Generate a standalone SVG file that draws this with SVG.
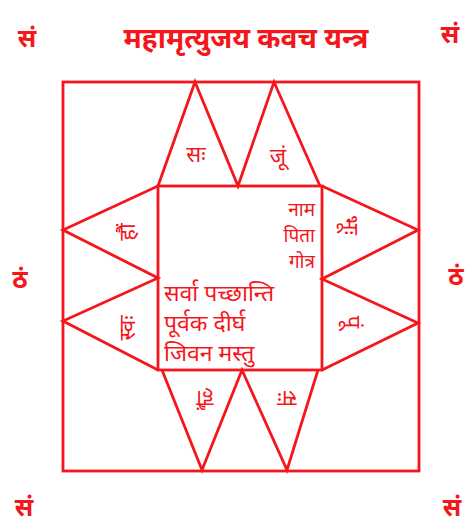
<svg xmlns="http://www.w3.org/2000/svg" width="470" height="525" viewBox="0 0 470 525">
<style>
.ln{fill:none;stroke:#f5161b;stroke-width:2.8;stroke-linejoin:miter}
.t{fill:#f5161b;font-family:"Noto Sans","Noto Sans CJK SC",sans-serif}
.big{font-size:25px;font-weight:bold}
.ttl{font-size:28px;font-weight:bold}
.mid{font-size:23px}
.nm{font-size:19px}
.sm{font-size:22px}
</style>
<rect width="470" height="525" fill="#ffffff"/>
<g id="corners">
<text class="t big" x="27" y="47" text-anchor="middle">सं</text>
<text class="t big" x="450" y="43" text-anchor="middle">सं</text>
<text class="t big" x="24" y="516" text-anchor="middle">सं</text>
<text class="t big" x="452" y="516" text-anchor="middle">सं</text>
<text class="t big" x="20" y="288" text-anchor="middle">ठं</text>
<text class="t big" x="456" y="285" text-anchor="middle">ठं</text>
</g>
<g id="title">
<text class="t ttl" x="246" y="48" text-anchor="middle">महामृत्युजय कवच यन्त्र</text>
</g>
<g id="connectors">
<rect class="ln" x="63" y="82" width="356" height="389"/>
<rect class="ln" x="158" y="186" width="164" height="184"/>
<polyline class="ln" points="158,186 195,82 238,186 274,82 320,186"/>
<polyline class="ln" points="162,370 202,470 242,370 287,470 318,370"/>
<polyline class="ln" points="158,186 63,230 158,278 63,321 158,370"/>
<polyline class="ln" points="322,186 418,230 322,279 418,323 322,370"/>
</g>
<g id="triangles">
<text class="t sm" x="196" y="162" text-anchor="middle">सः</text>
<text class="t sm" x="278" y="164" text-anchor="middle">जूं</text>
<text class="t sm" text-anchor="middle" transform="translate(128,232) rotate(-90)" dy="7">हौं</text>
<text class="t sm" text-anchor="middle" transform="translate(128,328) rotate(-90)" dy="7">स्वः</text>
<text class="t sm" text-anchor="middle" transform="translate(350,225) rotate(90)" dy="7">भूः</text>
<text class="t sm" text-anchor="middle" transform="translate(352,322) rotate(90)" dy="7">पूं</text>
<text class="t sm" text-anchor="middle" transform="translate(205,398) rotate(180)" dy="7">हौं</text>
<text class="t sm" text-anchor="middle" transform="translate(287,398) rotate(180)" dy="7">सः</text>
</g>
<g id="center">
<text class="t nm" x="315" y="216" text-anchor="end">नाम</text>
<text class="t nm" x="315" y="242" text-anchor="end">पिता</text>
<text class="t nm" x="315" y="268" text-anchor="end">गोत्र</text>
<text class="t mid" x="164" y="301">सर्वा पच्छान्ति</text>
<text class="t mid" x="164" y="331">पूर्वक  दीर्घ</text>
<text class="t mid" x="164" y="361">जिवन मस्तु</text>
</g>
</svg>
